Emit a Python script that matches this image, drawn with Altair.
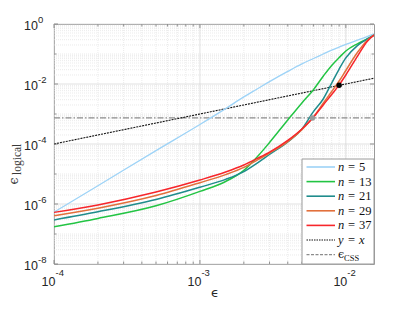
import altair as alt
import pandas as pd

# ---------------- data ----------------
eps = [1e-4, 2e-4, 5e-4, 1e-3, 1.5e-3, 2e-3, 2.5e-3, 3e-3, 4e-3, 5e-3,
       6e-3, 7e-3, 8e-3, 9e-3, 1e-2, 1.2e-2, 1.4e-2, 1.56e-2]

n5 = [5.37e-7, 4.07e-6, 6.03e-5, 4.47e-4, 1.51e-3, 3.72e-3, 7.08e-3, 1.20e-2, 2.63e-2,
      4.68e-2, 7.08e-2, 0.100, 0.135, 0.170, 0.209, 0.288, 0.380, 0.468]
n13 = [1.74e-7, 3.31e-7, 8.71e-7, 2.63e-6, 5.62e-6, 1.32e-5, 3.98e-5, 1.12e-4, 6.31e-4,
       2.34e-3, 6.46e-3, 1.82e-2, 4.17e-2, 7.59e-2, 0.126, 0.219, 0.316, 0.427]
n21 = [2.95e-7, 5.50e-7, 1.41e-6, 3.63e-6, 6.61e-6, 1.20e-5, 2.40e-5, 4.47e-5, 1.17e-4,
       3.16e-4, 1.20e-3, 3.16e-3, 1.07e-2, 3.16e-2, 7.41e-2, 0.191, 0.316, 0.427]
n29 = [4.07e-7, 7.24e-7, 1.91e-6, 5.13e-6, 9.55e-6, 1.66e-5, 3.02e-5, 5.01e-5, 1.20e-4,
       3.02e-4, 7.94e-4, 2.29e-3, 5.62e-3, 1.26e-2, 2.82e-2, 0.112, 0.282, 0.427]
n37 = [5.25e-7, 9.33e-7, 2.51e-6, 6.31e-6, 1.17e-5, 2.00e-5, 3.39e-5, 5.37e-5, 1.32e-4,
       3.16e-4, 7.76e-4, 2.00e-3, 4.47e-3, 9.33e-3, 2.00e-2, 8.32e-2, 0.263, 0.427]

series_names = ["5", "13", "21", "29", "37"]
series_vals = [n5, n13, n21, n29, n37]
series_colors = ["#9dd3f7", "#22c443", "#1f8c8c", "#e2703c", "#f7262b"]

diag_x = [1e-4, 1.56e-2]
eps_css = [7.4e-4]
dot_black = ([9.0e-3], [9.1e-3])
dot_gray = ([5.9e-3], [7.4e-4])

x_major = [1e-4, 1e-3, 1e-2]
x_minor = [m * d for d in (1e-4, 1e-3) for m in range(2, 10)]
x_exps = ["-4", "-3", "-2"]
y_labeled = [1e-8, 1e-6, 1e-4, 1e-2, 1.0]
y_exps = ["-8", "-6", "-4", "-2", "0"]
y_odd = [1e-7, 1e-5, 1e-3, 1e-1]
y_minor = [m * 10.0 ** k for k in range(-8, 0) for m in range(2, 10)]

# ---------------- chart ----------------
W, H = 320, 240
xs = alt.Scale(type="log", domain=[1e-4, 1.56e-2], nice=False)
ys = alt.Scale(type="log", domain=[1e-8, 1.0], nice=False)


def X(f):
    return alt.X(f, type="quantitative", scale=xs, axis=None)


def Y(f):
    return alt.Y(f, type="quantitative", scale=ys, axis=None)


one = pd.DataFrame({"a": [0]})
layers = []

# grid
grid_minor_col = "#e3e3e3"
grid_major_col = "#d4d4d4"
layers.append(alt.Chart(pd.DataFrame({"v": x_minor})).mark_rule(
    color=grid_minor_col, strokeWidth=0.7, strokeDash=[1, 1]).encode(
    x=X("v"), y=alt.value(0), y2=alt.value(H)))
layers.append(alt.Chart(pd.DataFrame({"v": y_minor + y_odd})).mark_rule(
    color=grid_minor_col, strokeWidth=0.7, strokeDash=[1, 1]).encode(
    y=Y("v"), x=alt.value(0), x2=alt.value(W)))
layers.append(alt.Chart(pd.DataFrame({"v": x_major})).mark_rule(
    color=grid_major_col, strokeWidth=0.7).encode(
    x=X("v"), y=alt.value(0), y2=alt.value(H)))
layers.append(alt.Chart(pd.DataFrame({"v": y_labeled})).mark_rule(
    color=grid_major_col, strokeWidth=0.7).encode(
    y=Y("v"), x=alt.value(0), x2=alt.value(W)))

# eps_css dash-dot line
layers.append(alt.Chart(pd.DataFrame({"v": eps_css})).mark_rule(
    color="#8c8c8c", strokeWidth=1.2, strokeDash=[6, 2, 1.5, 2]).encode(
    y=Y("v"), x=alt.value(0), x2=alt.value(W)))

# y = x
layers.append(alt.Chart(pd.DataFrame({"x": diag_x, "y": diag_x})).mark_line(
    color="#111111", strokeWidth=1.1, strokeDash=[2, 1], clip=True).encode(
    x=X("x"), y=Y("y")))

# series
for name, vals, col in zip(series_names, series_vals, series_colors):
    df = pd.DataFrame({"eps": eps, "val": vals})
    layers.append(alt.Chart(df).mark_line(
        color=col, strokeWidth=1.3 if name == "5" else 1.5,
        interpolate="monotone", clip=True).encode(x=X("eps"), y=Y("val")))

# dots
layers.append(alt.Chart(pd.DataFrame({"x": dot_gray[0], "y": dot_gray[1]})).mark_circle(
    color="#9a9a9a", opacity=1, size=30).encode(x=X("x"), y=Y("y")))
layers.append(alt.Chart(pd.DataFrame({"x": dot_black[0], "y": dot_black[1]})).mark_circle(
    color="#000000", opacity=1, size=30).encode(x=X("x"), y=Y("y")))

# ticks (inward, all four sides)
tick_col = "#7a7a7a"
for vals, ln in ((x_major, 4), (x_minor, 2.5)):
    d = pd.DataFrame({"v": vals})
    layers.append(alt.Chart(d).mark_rule(color=tick_col, strokeWidth=0.8).encode(
        x=X("v"), y=alt.value(H), y2=alt.value(H - ln)))
    layers.append(alt.Chart(d).mark_rule(color=tick_col, strokeWidth=0.8).encode(
        x=X("v"), y=alt.value(0), y2=alt.value(ln)))
for vals, ln in ((y_labeled, 4), (y_odd, 2.5)):
    d = pd.DataFrame({"v": vals})
    layers.append(alt.Chart(d).mark_rule(color=tick_col, strokeWidth=0.8).encode(
        y=Y("v"), x=alt.value(0), x2=alt.value(ln)))
    layers.append(alt.Chart(d).mark_rule(color=tick_col, strokeWidth=0.8).encode(
        y=Y("v"), x=alt.value(W), x2=alt.value(W - ln)))

# tick labels
lab_col = "#262626"
xl = pd.DataFrame({"v": x_major, "e": x_exps})
layers.append(alt.Chart(xl).mark_text(
    align="right", baseline="middle", dx=1.5, fontSize=12.5,
    font="Liberation Sans", color=lab_col).encode(
    x=X("v"), y=alt.value(H + 17.5), text=alt.value("10")))
layers.append(alt.Chart(xl).mark_text(
    align="left", baseline="middle", dx=1.5, fontSize=9.5,
    font="Liberation Sans", color=lab_col).encode(
    x=X("v"), y=alt.value(H + 9), text="e:N"))
yl = pd.DataFrame({"v": y_labeled, "e": y_exps})
layers.append(alt.Chart(yl).mark_text(
    align="right", baseline="middle", dy=2, fontSize=12.5,
    font="Liberation Sans", color=lab_col).encode(
    y=Y("v"), x=alt.value(-16), text=alt.value("10")))
layers.append(alt.Chart(yl).mark_text(
    align="left", baseline="middle", dy=-4, fontSize=9.5,
    font="Liberation Sans", color=lab_col).encode(
    y=Y("v"), x=alt.value(-16), text="e:N"))

# axis titles
layers.append(alt.Chart(one).mark_text(
    fontSize=13, font="DejaVu Sans", color=lab_col, baseline="middle").encode(
    x=alt.value(161), y=alt.value(269), text=alt.value("ϵ")))
layers.append(alt.Chart(one).mark_text(
    fontSize=12.5, font="DejaVu Serif", color="#3a3a3a", baseline="middle",
    align="center", angle=270).encode(
    x=alt.value(-40.5), y=alt.value(157), text=alt.value("ϵ")))
layers.append(alt.Chart(one).mark_text(
    fontSize=11.5, font="Liberation Serif", color="#3a3a3a", baseline="middle",
    align="left", angle=270).encode(
    x=alt.value(-36.5), y=alt.value(151), text=alt.value("logical")))

# legend
layers.append(alt.Chart(one).mark_rect(
    fill="white", stroke="#9a9a9a", strokeWidth=1).encode(
    x=alt.value(248), x2=alt.value(W), y=alt.value(135), y2=alt.value(H)))
ly0, lstep = 143, 14.6
leg_font = "Liberation Serif"
for i, (name, col) in enumerate(zip(series_names, series_colors)):
    yy = ly0 + lstep * i
    layers.append(alt.Chart(one).mark_rule(color=col, strokeWidth=1.6).encode(
        x=alt.value(252.5), x2=alt.value(281), y=alt.value(yy)))
    layers.append(alt.Chart(one).mark_text(
        align="left", baseline="middle", fontSize=12.5, font=leg_font,
        fontStyle="italic", color="#111").encode(
        x=alt.value(284), y=alt.value(yy), text=alt.value("n")))
    layers.append(alt.Chart(one).mark_text(
        align="left", baseline="middle", fontSize=12.5, font=leg_font,
        color="#111").encode(
        x=alt.value(294), y=alt.value(yy), text=alt.value("=")))
    layers.append(alt.Chart(one).mark_text(
        align="left", baseline="middle", fontSize=12.5, font=leg_font,
        color="#111").encode(
        x=alt.value(305), y=alt.value(yy), text=alt.value(name)))

yy = ly0 + lstep * 5
layers.append(alt.Chart(one).mark_rule(color="#111", strokeWidth=1.1, strokeDash=[1.5, 1]).encode(
    x=alt.value(252.5), x2=alt.value(281), y=alt.value(yy)))
for txt, xx, sty in (("y", 284, "italic"), ("=", 294, "normal"), ("x", 305, "italic")):
    layers.append(alt.Chart(one).mark_text(
        align="left", baseline="middle", fontSize=12.5, font=leg_font,
        fontStyle=sty, color="#111").encode(
        x=alt.value(xx), y=alt.value(yy), text=alt.value(txt)))

yy = ly0 + lstep * 6
layers.append(alt.Chart(one).mark_rule(color="#8c8c8c", strokeWidth=1.1, strokeDash=[3, 1.5]).encode(
    x=alt.value(252.5), x2=alt.value(281), y=alt.value(yy)))
layers.append(alt.Chart(one).mark_text(
    align="left", baseline="middle", fontSize=11, font="DejaVu Serif",
    color="#111").encode(
    x=alt.value(284), y=alt.value(yy), text=alt.value("ϵ")))
layers.append(alt.Chart(one).mark_text(
    align="left", baseline="middle", fontSize=8.5, font=leg_font,
    color="#111").encode(
    x=alt.value(290), y=alt.value(yy + 3), text=alt.value("CSS")))

chart = alt.layer(*layers).properties(
    width=W, height=H,
    autosize=alt.AutoSizeParams(type="none"),
    padding={"left": 46, "top": 16, "right": 33, "bottom": 40},
).configure_view(stroke="#9a9a9a", strokeWidth=1)

chart.save("out.html", embed_options={"renderer": "svg", "actions": False})
